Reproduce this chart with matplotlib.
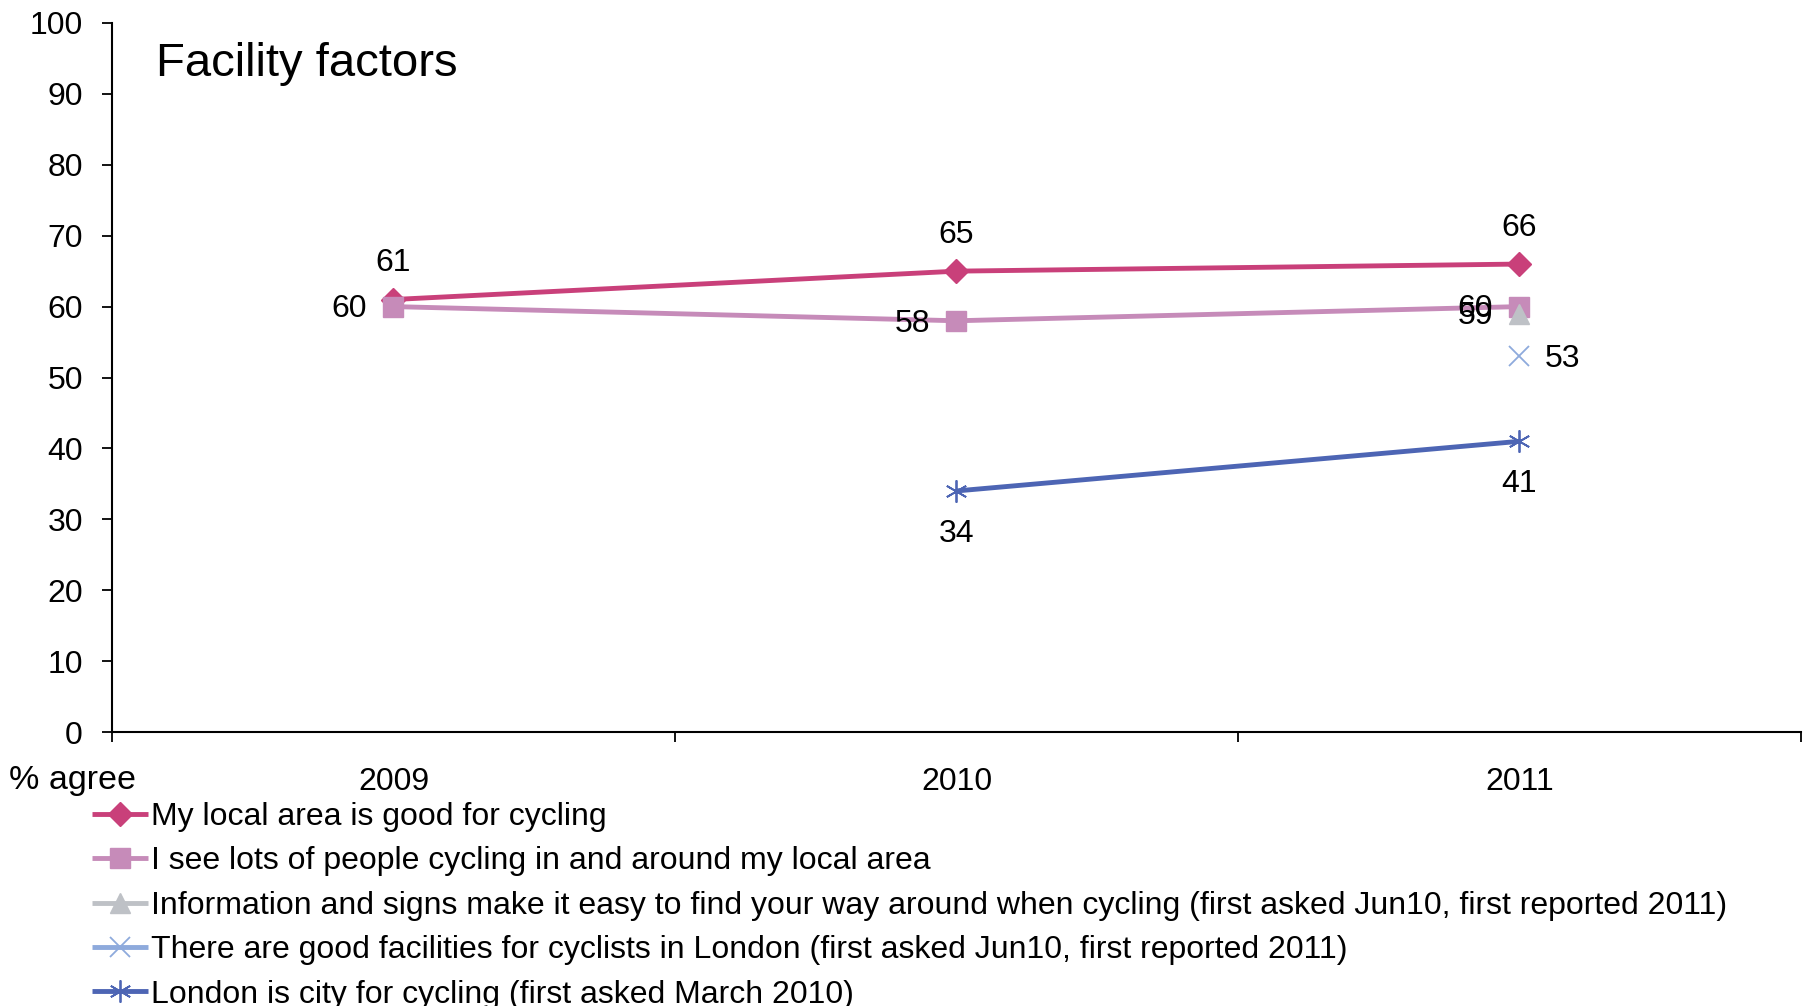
import matplotlib
matplotlib.use("Agg")
import matplotlib.pyplot as plt
import numpy as np

plt.rcParams['font.family'] = ['Liberation Sans', 'DejaVu Sans']

years = ["2009", "2010", "2011"]
labels = [
    "My local area is good for cycling",
    "I see lots of people cycling in and around my local area",
    "Information and signs make it easy to find your way around when cycling (first asked Jun10, first reported 2011)",
    "There are good facilities for cyclists in London (first asked Jun10, first reported 2011)",
    "London is city for cycling (first asked March 2010)",
]
local_area = [61, 65, 66]
see_cyclists = [60, 58, 60]
info_signs = [np.nan, np.nan, 59]
good_facilities = [np.nan, np.nan, 53]
london_city = [np.nan, 34, 41]
yticks = [0, 10, 20, 30, 40, 50, 60, 70, 80, 90, 100]

series = [local_area, see_cyclists, info_signs, good_facilities, london_city]
colors = ["#C9407A", "#C68BB9", "#BEC1C6", "#8EAADC", "#4D65B4"]
markers = ["D", "s", "^", "x", (6, 2, 0)]
msizes = [12, 15, 15, 15, 16]
# label offset directions (points)
offsets = [(0, 26), (-32, -2), (-32, -2), (31, -2), (0, -31)]

FS = 23
W, H = 1808, 1006
fig = plt.figure(figsize=(W / 100, H / 100), dpi=100)
ax = fig.add_axes([112 / W, 1 - 732 / H, (1801 - 112) / W, (732 - 23) / H])

x = np.arange(len(years)) + 0.5
handles = []
for vals, c, m, ms, lab in zip(series, colors, markers, msizes, labels):
    mew = 1.3 if m in ("x", (6, 2, 0)) else 1
    h, = ax.plot(x, vals, color=c, lw=3.5, marker=m, ms=ms, mec=c, mfc=c,
                 mew=mew, label=lab, solid_capstyle='butt')
    handles.append(h)

for vals, off in zip(series, offsets):
    for xi, v in zip(x, vals):
        if np.isnan(v):
            continue
        ax.annotate(f"{int(v)}", (xi, v), xytext=off, textcoords='offset points',
                    ha='center', va='center', fontsize=FS, color='black')

ax.set_xlim(0, 3)
ax.set_ylim(0, 100)
ax.set_yticks(yticks)
ax.set_yticklabels([str(t) for t in yticks], fontsize=FS)
ax.set_xticks([0, 1, 2, 3])
ax.set_xticklabels([])
ax.set_xticks(x, minor=True)
ax.set_xticklabels(years, minor=True, fontsize=FS)
ax.tick_params(axis='x', which='minor', length=0, pad=25)
ax.tick_params(axis='x', which='major', length=7, width=1.3, direction='out')
ax.tick_params(axis='y', length=7, width=1.3, direction='out', pad=14)
for s in ('top', 'right'):
    ax.spines[s].set_visible(False)
for s in ('left', 'bottom'):
    ax.spines[s].set_linewidth(1.5)

fig.text(156 / W, 1 - 64 / H, "Facility factors", fontsize=34, va='center', ha='left')
fig.text(9 / W, 1 - 781 / H, "% agree", fontsize=24.5, va='center', ha='left')

leg = fig.legend(handles=handles, labels=labels, loc='upper left',
                 bbox_to_anchor=(92 / W, 1 - 802 / H), frameon=False,
                 fontsize=FS, handlelength=1.75, handletextpad=0.1,
                 labelspacing=0.45, borderpad=0, borderaxespad=0)

fig.savefig("out.png", dpi=100)
